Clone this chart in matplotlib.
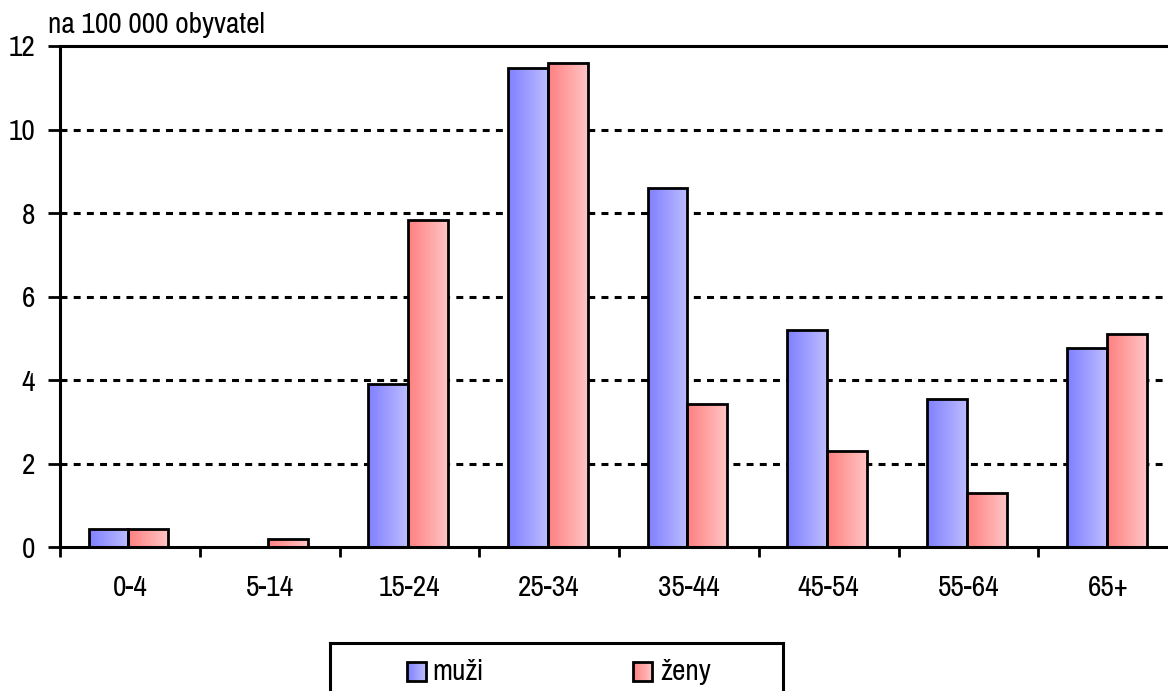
import numpy as np
import matplotlib
matplotlib.use("Agg")
import matplotlib.pyplot as plt
from matplotlib.colors import LinearSegmentedColormap
from matplotlib.patches import Rectangle

categories = ["0-4", "5-14", "15-24", "25-34", "35-44", "45-54", "55-64", "65+"]
muzi = [0.43, 0.0, 3.90, 11.47, 8.59, 5.19, 3.55, 4.78]
zeny = [0.45, 0.20, 7.83, 11.60, 3.43, 2.31, 1.29, 5.10]
series_names = ["muži", "ženy"]
y_ticks = [0, 2, 4, 6, 8, 10, 12]
y_label = "na 100 000 obyvatel"

plt.rcParams['font.family'] = ['Pragati Narrow', 'Roboto Condensed', 'DejaVu Sans']
plt.rcParams['lines.scale_dashes'] = False
FS = 23

W, H = 1168, 691
fig = plt.figure(figsize=(W / 100, H / 100), dpi=100)
ax = fig.add_axes([60 / W, 1 - 547.3 / H, (1178 - 60) / W, (547.3 - 46) / H])

blue_cmap = LinearSegmentedColormap.from_list("b", ["#8080FF", "#BCBCFF"])
red_cmap = LinearSegmentedColormap.from_list("r", ["#FF8080", "#FFC4C4"])
grad = np.linspace(0, 1, 64).reshape(1, -1)

x = np.arange(len(categories))
bw = 0.286

for yv in y_ticks[1:-1]:
    ax.axhline(yv, color="black", lw=2.2, ls=(0, (5, 4.5)), zorder=1)
ax.axhline(y_ticks[-1], color="black", lw=2.2, zorder=1, clip_on=False)

def gradient_bars(xs, vals, cmap):
    bars = ax.bar(xs, vals, width=bw, facecolor="none", edgecolor="black",
                  linewidth=2.0, zorder=3)
    for b in bars:
        if b.get_height() <= 0:
            b.set_visible(False)
            continue
        x0, y0 = b.get_x(), b.get_y()
        im = ax.imshow(grad, cmap=cmap, aspect="auto",
                       extent=[x0, x0 + b.get_width(), y0, y0 + b.get_height()],
                       zorder=2, interpolation="bilinear")
        im.set_clip_path(b)
    return bars

gradient_bars(x - bw / 2 - 0.01, muzi, blue_cmap)
gradient_bars(x + bw / 2 - 0.01, zeny, red_cmap)
ax.set_xlim(-0.5, len(categories) - 0.5)
ax.set_ylim(0, 12)

for s in ["top", "right"]:
    ax.spines[s].set_visible(False)
for s in ["left", "bottom"]:
    ax.spines[s].set_linewidth(2.2)
    ax.spines[s].set_zorder(4)

ax.set_yticks(y_ticks)
ax.set_yticklabels([str(v) for v in y_ticks])
ax.tick_params(axis="y", length=9, width=2, pad=9, labelsize=FS)

ax.set_xticks(np.arange(len(categories) + 1) - 0.5)
ax.set_xticklabels([])
ax.tick_params(axis="x", which="major", length=7.5, width=2)
ax.set_xticks(x, minor=True)
ax.set_xticklabels(categories, minor=True)
ax.tick_params(axis="x", which="minor", length=0, pad=20, labelsize=FS)

fig.text(48 / W, 1 - 33 / H, y_label, fontsize=FS, ha="left", va="baseline")

# legend box
lax = fig.add_axes([330 / W, 0, (783 - 330) / W, (691 - 643) / H])
lax.set_xticks([])
lax.set_yticks([])
lax.patch.set_alpha(0)
for s in ["top", "left", "right"]:
    lax.spines[s].set_linewidth(2.2)
lax.spines["bottom"].set_visible(False)

for (sx, tx, name, cmap) in [(77, 102, series_names[0], blue_cmap),
                             (303, 330, series_names[1], red_cmap)]:
    r = Rectangle((sx, 10), 19, 19, facecolor="none", edgecolor="black", lw=2, zorder=3)
    lax.add_patch(r)
    im = lax.imshow(grad, cmap=cmap, aspect="auto", extent=[sx, sx + 19, 10, 29], zorder=2)
    im.set_clip_path(r)
    lax.text(tx, 19, name, fontsize=FS, va="center", ha="left")
lax.set_xlim(0, 453)
lax.set_ylim(0, 48)

fig.savefig("out.png", dpi=100)
